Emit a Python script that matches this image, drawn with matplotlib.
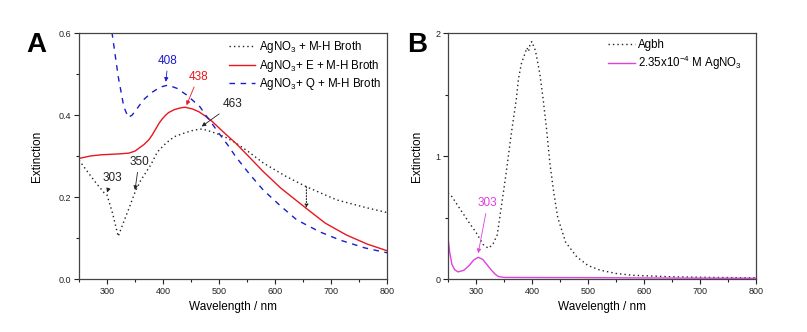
import matplotlib
matplotlib.use('Agg')
import matplotlib.pyplot as plt
from matplotlib.ticker import MultipleLocator

plt.rcParams['font.family'] = ['Liberation Sans', 'DejaVu Sans']
plt.rcParams['mathtext.fontset'] = 'custom'
plt.rcParams['mathtext.rm'] = 'Liberation Sans'
plt.rcParams['mathtext.default'] = 'regular'

# pannello A
wl_mh = [250, 265, 280, 295, 300, 310, 320, 330, 340, 350, 360, 378, 390, 405, 420, 440,
         455, 470, 487, 510, 531, 555, 579, 620, 656, 710, 760, 800]
ext_mh = [0.290, 0.262, 0.235, 0.210, 0.205, 0.160, 0.104, 0.140, 0.175, 0.212, 0.240, 0.278,
          0.310, 0.331, 0.347, 0.357, 0.363, 0.366, 0.359, 0.347, 0.331, 0.308, 0.283, 0.250,
          0.225, 0.193, 0.175, 0.162]

wl_e = [250, 270, 290, 320, 339, 350, 357, 366, 375, 381, 387, 393, 399, 405, 410, 420, 430,
        439, 452, 464, 476, 488, 505, 530, 555, 579, 610, 656, 690, 728, 765, 800]
ext_e = [0.294, 0.300, 0.303, 0.305, 0.307, 0.312, 0.319, 0.328, 0.340, 0.352, 0.366, 0.380,
         0.391, 0.400, 0.406, 0.413, 0.417, 0.419, 0.415, 0.408, 0.397, 0.384, 0.362, 0.331,
         0.296, 0.262, 0.222, 0.172, 0.136, 0.107, 0.085, 0.069]

wl_q = [300, 309, 320, 330, 338, 345, 355, 365, 380, 395, 409, 425, 442, 452, 466, 476, 488,
        500, 515, 530, 555, 579, 610, 639, 680, 716, 760, 800]
ext_q = [0.72, 0.60, 0.494, 0.42, 0.394, 0.40, 0.418, 0.437, 0.455, 0.468, 0.473, 0.465, 0.449,
         0.437, 0.42, 0.40, 0.378, 0.355, 0.328, 0.298, 0.255, 0.217, 0.178, 0.144, 0.115,
         0.095, 0.076, 0.064]

# pannello B
wl_agbh = [250, 257, 270, 289, 300, 313, 322, 330, 338, 345, 352, 357, 363, 372, 376, 381,
           388, 391, 394, 397, 400, 403, 406, 414, 420, 426, 432, 439, 446, 460, 480, 500,
           521, 550, 581, 650, 720, 800]
ext_agbh = [0.70, 0.67, 0.58, 0.45, 0.38, 0.28, 0.25, 0.28, 0.36, 0.58, 0.80, 0.97, 1.18, 1.46,
            1.63, 1.75, 1.84, 1.88, 1.85, 1.92, 1.93, 1.89, 1.86, 1.67, 1.46, 1.22, 0.94, 0.70,
            0.50, 0.30, 0.18, 0.11, 0.073, 0.045, 0.030, 0.018, 0.013, 0.010]

wl_ag = [250, 253, 257, 262, 268, 278, 288, 296, 304, 312, 320, 327, 334, 340, 350, 400, 500,
         600, 700, 800]
ext_ag = [0.34, 0.22, 0.12, 0.075, 0.058, 0.07, 0.11, 0.155, 0.176, 0.16, 0.115, 0.075, 0.04,
          0.02, 0.013, 0.012, 0.011, 0.009, 0.007, 0.006]

labels_a = ['AgNO$_3$ + M-H Broth', 'AgNO$_3$+ E + M-H Broth', 'AgNO$_3$+ Q + M-H Broth']
labels_b = ['Agbh', '2.35x10$^{-4}$ M AgNO$_3$']

RED = '#e8161e'
BLUE = '#1c1ccc'
MAG = '#e040e0'
DOT = (0, (1, 2.2))

fig = plt.figure(figsize=(8.07, 3.32), dpi=100)
axA = fig.add_axes([0.0979, 0.1596, 0.3817, 0.741])
axB = fig.add_axes([0.5551, 0.1596, 0.3817, 0.741])


def stile_assi(ax, pad):
    for s in ax.spines.values():
        s.set_color('#444444')
        s.set_linewidth(0.9)
    ax.tick_params(which='both', direction='out', top=False, right=False,
                   labelsize=6.5, colors='#222222', width=0.8)
    ax.tick_params(which='major', length=3.5, pad=2)
    ax.tick_params(which='minor', length=2)
    ax.set_xlim(250, 800)
    ax.xaxis.set_major_locator(MultipleLocator(100))
    ax.xaxis.set_minor_locator(MultipleLocator(50))
    ax.set_xlabel('Wavelength / nm', fontsize=8.5, labelpad=4)
    ax.set_ylabel('Extinction', fontsize=8.5, labelpad=pad)


# --- A ---
axA.plot(wl_mh, ext_mh, color='#222222', lw=1, linestyle=DOT, label=labels_a[0])
axA.plot(wl_e, ext_e, color=RED, lw=1, label=labels_a[1])
axA.plot(wl_q, ext_q, color=BLUE, lw=1, linestyle=(0, (4, 4)), label=labels_a[2])
axA.set_ylim(0, 0.6)
axA.yaxis.set_major_locator(MultipleLocator(0.2))
axA.yaxis.set_minor_locator(MultipleLocator(0.1))
stile_assi(axA, 11)
axA.legend(loc='upper right', frameon=False, fontsize=8.3, handlelength=2.3,
           handletextpad=0.3, labelspacing=0.2, borderaxespad=0.15)

ap = dict(arrowstyle='-|>', lw=0.6, mutation_scale=6, shrinkA=1, shrinkB=0)
axA.annotate('408', xy=(405, 0.481), xytext=(409, 0.532), color=BLUE, fontsize=8.5,
             ha='center', va='center', arrowprops=dict(ap, color=BLUE))
axA.annotate('438', xy=(442, 0.424), xytext=(463, 0.493), color=RED, fontsize=8.5,
             ha='center', va='center', arrowprops=dict(ap, color=RED))
axA.annotate('463', xy=(469, 0.372), xytext=(524, 0.426), color='#222222', fontsize=8.5,
             ha='center', va='center', arrowprops=dict(ap, color='#222222'))
axA.annotate('303', xy=(300, 0.211), xytext=(309, 0.246), color='#222222', fontsize=8.5,
             ha='center', va='center', arrowprops=dict(ap, color='#222222'))
axA.annotate('350', xy=(350, 0.217), xytext=(357, 0.285), color='#222222', fontsize=8.5,
             ha='center', va='center', arrowprops=dict(ap, color='#222222'))
axA.annotate('', xy=(656, 0.173), xytext=(656, 0.225),
             arrowprops=dict(arrowstyle='-|>', lw=0.8, linestyle=':', mutation_scale=5,
                             color='#222222', shrinkA=0, shrinkB=0))

# --- B ---
axB.plot(wl_agbh, ext_agbh, color='#222222', lw=1, linestyle=DOT, label=labels_b[0])
axB.plot(wl_ag, ext_ag, color=MAG, lw=1, label=labels_b[1])
axB.set_ylim(0, 2)
axB.yaxis.set_major_locator(MultipleLocator(1))
axB.yaxis.set_minor_locator(MultipleLocator(0.5))
stile_assi(axB, 9)
axB.legend(loc='upper left', bbox_to_anchor=(0.5, 1.0), frameon=False, fontsize=8.3,
           handlelength=2.3, handletextpad=0.3, labelspacing=0.25, borderaxespad=0.15)
axB.annotate('303', xy=(304, 0.21), xytext=(321, 0.615), color=MAG, fontsize=8.5,
             ha='center', va='center', arrowprops=dict(ap, color=MAG))

fig.text(0.033, 0.843, 'A', fontsize=20, fontweight='bold', va='baseline')
fig.text(0.505, 0.843, 'B', fontsize=20, fontweight='bold', va='baseline')

fig.savefig('out.png', dpi=100)
